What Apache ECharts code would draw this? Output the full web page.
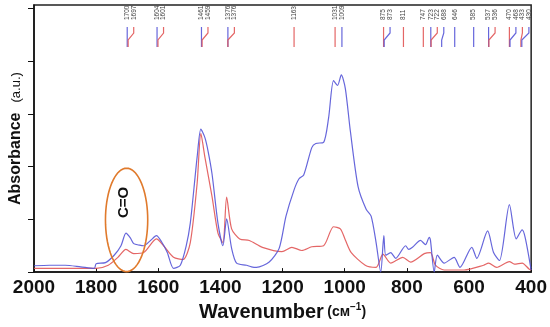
<!DOCTYPE html>
<html><head><meta charset="utf-8">
<script src="https://cdn.jsdelivr.net/npm/echarts@6/dist/echarts.min.js"></script>
<style>html,body{margin:0;padding:0;background:#fff}#c{width:550px;height:327px}</style>
</head><body><div id="c"></div>
<script>
// ---- data ----
const xTicks = [2000, 1800, 1600, 1400, 1200, 1000, 800, 600, 400];
const blueWn  = [2000,1950,1900,1850,1806,1800,1770,1742,1720,1704,1690,1679,1660,1647,1625,1606,1590,1571,1551,1529,1510,1497,1485,1475,1463,1450,1440,1427,1408,1392,1380,1364,1348,1316,1300,1284,1243,1211,1189,1163,1147,1132,1106,1093,1068,1052,1036,1023,1011,998,982,957,931,915,899,884,874,868,852,836,804,794,782,756,740,728,724,712,702,680,648,629,591,575,540,521,502,470,448,429,419,400];
const blueAbs = [0.12,0.13,0.13,0.10,0.07,0.16,0.18,0.32,0.50,0.74,0.65,0.54,0.51,0.50,0.60,0.69,0.58,0.37,0.07,0.13,0.50,0.93,1.6,2.18,2.71,2.55,2.3,1.86,0.93,0.50,1.01,0.45,0.17,0.13,0.10,0.09,0.19,0.45,1.06,1.56,1.77,1.84,2.36,2.44,2.46,2.92,3.63,3.54,3.74,3.48,2.68,1.62,1.19,1.06,0.56,0.0,0.69,0.32,0.37,0.26,0.50,0.43,0.47,0.60,0.52,0.66,0.60,0.0,0.32,0.17,0.28,0.09,0.47,0.26,0.78,0.37,0.22,1.28,0.63,0.80,0.65,0.04];
const redWn  = [2000,1900,1800,1761,1730,1704,1679,1647,1606,1583,1551,1520,1497,1475,1463,1450,1427,1408,1392,1380,1364,1338,1307,1265,1202,1170,1138,1106,1068,1036,1014,998,979,934,899,877,852,813,788,744,724,708,680,616,553,537,511,470,454,429,407,400];
const redAbs = [0.07,0.07,0.07,0.13,0.28,0.43,0.35,0.37,0.63,0.50,0.28,0.24,0.56,1.68,2.63,2.18,1.43,0.74,0.56,1.42,0.82,0.63,0.60,0.47,0.39,0.47,0.41,0.48,0.50,0.86,0.82,0.61,0.37,0.13,0.09,0.34,0.17,0.28,0.19,0.35,0.37,0.13,0.04,0.04,0.13,0.17,0.09,0.20,0.15,0.17,0.06,0.04];
const markerWn    = [1700,1697,1604,1601,1461,1459,1376,1376,1163,1031,1009,875,873,811,747,723,722,688,646,585,537,536,470,468,433,430];
const markerSeries= ['b','r','b','r','b','r','b','r','r','r','b','r','b','r','r','b','r','b','b','b','b','r','r','b','r','b'];
const annotationText = 'C=O';
const annotationCenter = [1702, 0.99];
const annotationRadius = [68, 0.98];
const annotationTextPos = [1712, 1.32];

// ---- style ----
const BLUE = 'rgba(85,85,215,0.9)';
const RED = 'rgba(225,85,85,0.9)';
const FONT = '"Liberation Sans", Arial, sans-serif';

const chart = echarts.init(document.getElementById('c'), null, {renderer:'canvas'});
const zip = (a,b)=>a.map((v,i)=>[v,b[i]]);

chart.setOption({
  animation:false,
  backgroundColor:'#fff',
  grid:{left:32,right:15,top:5,bottom:50,show:true,borderColor:'#222',borderWidth:1.5,containLabel:false},
  xAxis:{
    type:'value', inverse:true, min:400, max:2000, interval:200,
    axisLine:{show:true,lineStyle:{color:'#111',width:1.5}},
    axisTick:{show:true,inside:true,length:4,lineStyle:{color:'#111',width:1}},
    axisLabel:{color:'#111',fontSize:19,fontWeight:'bold',fontFamily:FONT,margin:6,
      customValues:xTicks, formatter:v=>String(v)},
    splitLine:{show:false},
    name:'{b|Wavenumber} {s|(см}{sup|−1}{s|)}', nameLocation:'middle', nameGap:24,
    nameTextStyle:{rich:{
      b:{fontSize:20,fontWeight:'bold',fontFamily:FONT,color:'#111'},
      s:{fontSize:14,fontWeight:'bold',fontFamily:FONT,color:'#111'},
      sup:{fontSize:10,fontWeight:'bold',fontFamily:FONT,color:'#111',verticalAlign:'top',padding:[0,0,8,0]}
    }}
  },
  yAxis:{
    type:'value', min:0, max:5.065,
    axisLine:{show:true,lineStyle:{color:'#111',width:1.5}},
    axisTick:{show:true,inside:false,length:6,lineStyle:{color:'#111',width:1},customValues:[0,1,2,3,4,5]},
    axisLabel:{show:false},
    splitLine:{show:false},
    name:'{b|Absorbance}   {s|(a.u.)}', nameLocation:'middle', nameGap:10,
    nameTextStyle:{rich:{
      b:{fontSize:16,fontWeight:'bold',fontFamily:FONT,color:'#111'},
      s:{fontSize:13,fontFamily:FONT,color:'#111'}
    }}
  },
  series:[
    {type:'line', data:zip(redWn,redAbs), showSymbol:false, smooth:0.25, clip:true,
     lineStyle:{color:RED,width:1.2}, z:2},
    {type:'line', data:zip(blueWn,blueAbs), showSymbol:false, smooth:0.25, clip:true,
     lineStyle:{color:BLUE,width:1.2}, z:3},
    {type:'custom', clip:false, z:5,
     data:markerWn.map(w=>[w,0]),
     renderItem:function(params, api){
       const i = params.dataIndex;
       const top = params.coordSys.y;
       let prev = -Infinity, lx = 0;
       for(let k=0;k<=i;k++){
         const t = api.coord([markerWn[k],0])[0];
         lx = Math.max(t, prev+6.5);
         prev = lx;
       }
       const tx = api.coord([markerWn[i],0])[0];
       const col = markerSeries[i]==='b' ? BLUE : RED;
       const y0=top+22, y1=top+28, y2=top+35, y3=top+42;
       const pts = Math.abs(lx-tx)<0.5 ? [[tx,y0],[tx,y3]] : [[lx,y0],[lx,y1],[tx,y2],[tx,y3]];
       return {type:'group', children:[
         {type:'polyline', shape:{points:pts}, style:{stroke:col,lineWidth:1.2,fill:null}},
         {type:'text', x:lx, y:top+15, rotation:Math.PI/2,
          style:{text:String(markerWn[i]), font:'6.5px '+FONT, fill:'#444', align:'left', verticalAlign:'middle'}}
       ]};
     }
    },
    {type:'custom', clip:false, z:6,
     data:[annotationCenter],
     renderItem:function(params, api){
       const c = api.coord(annotationCenter);
       const s = api.size(annotationRadius);
       const pts=[];
       for(let k=0;k<=72;k++){const a=k/72*Math.PI*2; pts.push([c[0]+s[0]*Math.cos(a), c[1]+s[1]*Math.sin(a)]);}
       const tp = api.coord(annotationTextPos);
       return {type:'group', children:[
         {type:'polyline', shape:{points:pts}, style:{stroke:'#e07a2c',lineWidth:1.6,fill:null}},
         {type:'text', x:tp[0], y:tp[1], rotation:Math.PI/2,
          style:{text:annotationText, font:'bold 15px '+FONT, fill:'#111', align:'center', verticalAlign:'middle'}}
       ]};
     }
    }
  ]
});
</script></body></html>
